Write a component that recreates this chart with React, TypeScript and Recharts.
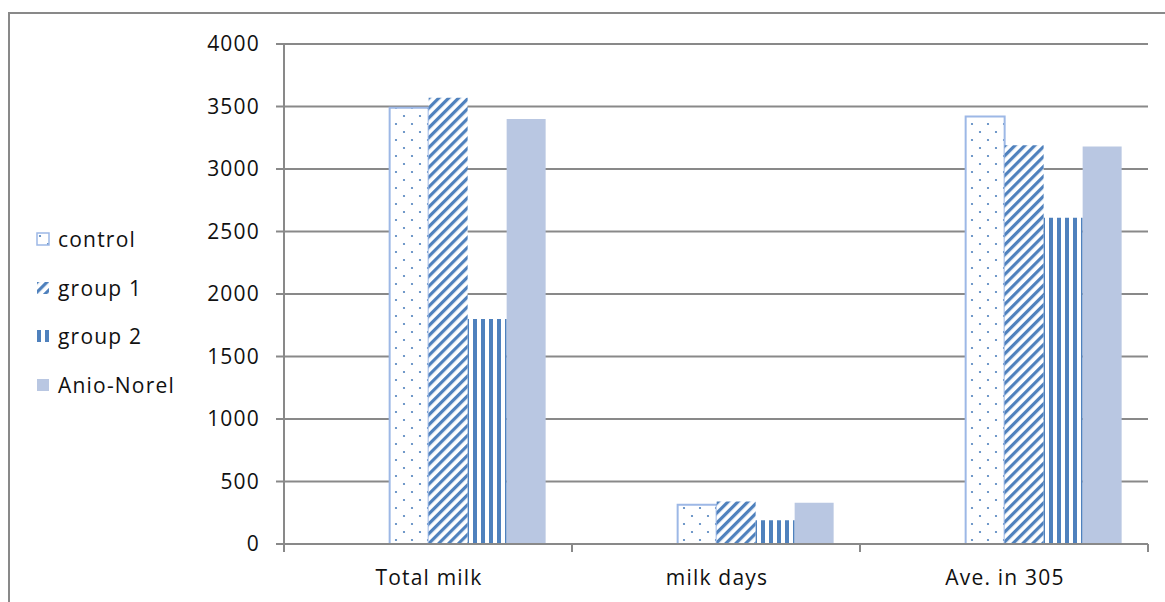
import { BarChart, Bar, XAxis, YAxis, CartesianGrid, Legend } from 'recharts';

const categories = ['Total milk', 'milk days', 'Ave. in 305'];
const control = [3490, 315, 3420];
const group1 = [3570, 340, 3190];
const group2 = [1800, 190, 2610];
const anioNorel = [3400, 330, 3180];
const yTicks = [0, 500, 1000, 1500, 2000, 2500, 3000, 3500, 4000];

const data = categories.map((name, i) => ({
  name,
  control: control[i],
  group1: group1[i],
  group2: group2[i],
  anio: anioNorel[i]
}));

const series = [
  { key: 'control', name: 'control', fill: 'url(#dots)', stroke: '#9DB8E6' },
  { key: 'group1', name: 'group 1', fill: 'url(#diag)', stroke: 'none' },
  { key: 'group2', name: 'group 2', fill: 'url(#vert)', stroke: 'none' },
  { key: 'anio', name: 'Anio-Norel', fill: '#B9C7E2', stroke: 'none' }
];

const W = 1165;
const H = 602;
const PLOT_LEFT = 284;
const PLOT_RIGHT = 1148;
const PLOT_TOP = 44;
const PLOT_BOTTOM = 544;
const BAND = (PLOT_RIGHT - PLOT_LEFT) / categories.length;
const FONT = '"Open Sans", sans-serif';
const FONT_SIZE = 21;
const SPACING = 1.2;
const GRID = '#898989';
const BLUE = '#4F81BD';

function CategoryTick(props: any) {
  const { x, payload, index } = props;
  const last = index === categories.length - 1;
  return (
    <g>
      <line x1={x - BAND / 2} x2={x - BAND / 2} y1={PLOT_BOTTOM} y2={PLOT_BOTTOM + 8} stroke={GRID} strokeWidth={2} />
      {last && (
        <line x1={x + BAND / 2} x2={x + BAND / 2} y1={PLOT_BOTTOM} y2={PLOT_BOTTOM + 8} stroke={GRID} strokeWidth={2} />
      )}
      <text
        x={x + 1}
        y={PLOT_BOTTOM + 41}
        textAnchor="middle"
        fontSize={FONT_SIZE}
        fontFamily={FONT}
        letterSpacing={SPACING}
        fill="#111"
      >
        {payload.value}
      </text>
    </g>
  );
}

function LegendBox() {
  return (
    <div style={{ fontFamily: FONT, fontSize: FONT_SIZE, letterSpacing: SPACING, color: '#111' }}>
      {series.map((s) => (
        <div key={s.key} style={{ display: 'flex', alignItems: 'center', height: 48.5 }}>
          <svg width={14} height={14} style={{ marginRight: 8 }}>
            <rect
              x={1}
              y={1}
              width={12}
              height={12}
              fill={s.fill}
              stroke={s.stroke === 'none' ? 'none' : s.stroke}
              strokeWidth={1.5}
            />
          </svg>
          <span>{s.name}</span>
        </div>
      ))}
    </div>
  );
}

export default function App() {
  return (
    <div style={{ position: 'absolute', left: 0, top: 0, width: W, height: H, overflow: 'hidden', background: '#fff' }}>
      <div
        style={{
          position: 'absolute',
          left: 8,
          top: 12,
          width: W,
          height: H,
          borderLeft: `2px solid ${GRID}`,
          borderTop: `2px solid ${GRID}`
        }}
      />
      <div style={{ position: 'absolute', left: 0, top: 0 }}>
        <BarChart
          width={W}
          height={H}
          data={data}
          margin={{ top: PLOT_TOP, right: W - PLOT_RIGHT, bottom: 0, left: 0 }}
          barGap={0}
          barCategoryGap="9.6%"
        >
          <defs>
            <pattern id="dots" patternUnits="userSpaceOnUse" width={16} height={16}>
              <rect width={16} height={16} fill="#fff" />
              <circle cx={4} cy={4} r={1.1} fill={BLUE} />
              <circle cx={12} cy={12} r={1.1} fill={BLUE} />
            </pattern>
            <pattern id="diag" patternUnits="userSpaceOnUse" width={7} height={7} patternTransform="rotate(45)">
              <rect width={7} height={7} fill="#fff" />
              <rect width={3.2} height={7} fill={BLUE} />
            </pattern>
            <pattern id="vert" patternUnits="userSpaceOnUse" width={8} height={8}>
              <rect width={8} height={8} fill="#fff" />
              <rect x={1} width={4} height={8} fill={BLUE} />
            </pattern>
          </defs>
          <CartesianGrid vertical={false} stroke={GRID} strokeWidth={2} />
          <XAxis
            dataKey="name"
            height={H - PLOT_BOTTOM}
            axisLine={{ stroke: GRID, strokeWidth: 2 }}
            tickLine={false}
            tick={<CategoryTick />}
            interval={0}
          />
          <YAxis
            width={PLOT_LEFT}
            domain={[0, 4000]}
            ticks={yTicks}
            interval={0}
            axisLine={{ stroke: GRID, strokeWidth: 2 }}
            tickLine={{ stroke: GRID, strokeWidth: 2 }}
            tickSize={8}
            tickMargin={16}
            tick={{ fontSize: FONT_SIZE, fontFamily: FONT, fill: '#111', letterSpacing: SPACING }}
          />
          <Legend
            layout="horizontal"
            verticalAlign="middle"
            align="center"
            wrapperStyle={{ left: 36, top: 215, width: 220 }}
            content={() => <LegendBox />}
          />
          {/* spacer slots: Excel leaves these empty, pushing the bars right */}
          <Bar dataKey="padA" legendType="none" isAnimationActive={false} />
          <Bar dataKey="padB" legendType="none" isAnimationActive={false} />
          {series.map((s) => (
            <Bar
              key={s.key}
              dataKey={s.key}
              name={s.name}
              fill={s.fill}
              stroke={s.stroke}
              strokeWidth={s.stroke === 'none' ? 0 : 2}
              isAnimationActive={false}
            />
          ))}
        </BarChart>
      </div>
    </div>
  );
}
